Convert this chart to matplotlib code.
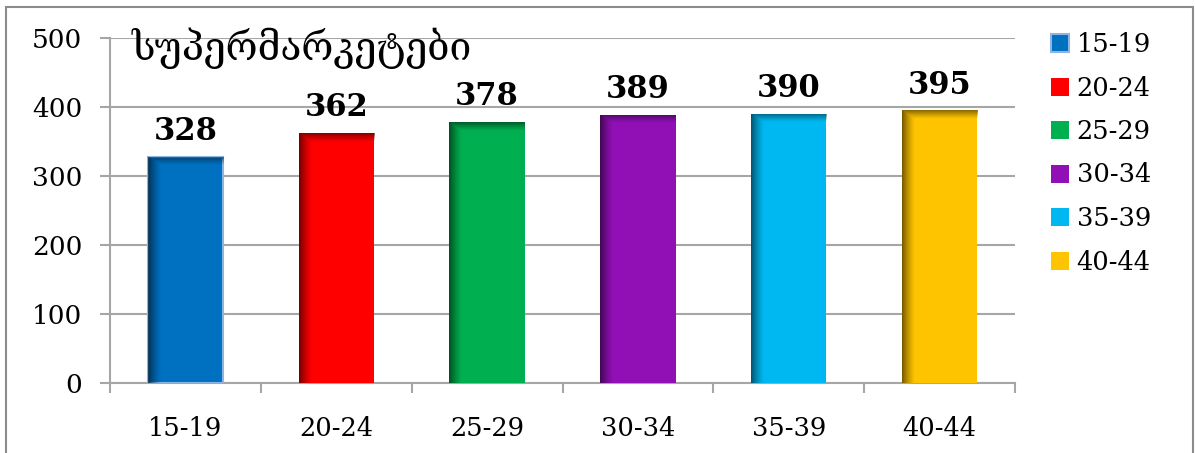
import numpy as np
import matplotlib
matplotlib.use("Agg")
import matplotlib.pyplot as plt
from matplotlib.patches import Rectangle
from matplotlib.colors import to_rgb

# Data
categories = ["15-19", "20-24", "25-29", "30-34", "35-39", "40-44"]
values = [328, 362, 378, 389, 390, 395]
bar_colors = ["#0070C0", "#FF0000", "#00B050", "#9110B5", "#00B8F1", "#FFC400"]
title_text = "სუპერმარკეტები"
y_ticks = [0, 100, 200, 300, 400, 500]

W, H = 1195, 453
fig = plt.figure(figsize=(W / 100, H / 100), dpi=100)
fig.patch.set_facecolor("white")

# outer chart frame
fig.patches.append(Rectangle((6 / W, -0.02), (1193 - 6) / W, 1.02 - 7 / H,
                             transform=fig.transFigure, fill=False,
                             edgecolor="#8C8C8C", linewidth=1.5, zorder=0))

ax = fig.add_axes([110 / W, (H - 383) / H, (1015 - 110) / W, (383 - 38) / H])
ax.set_xlim(-0.5, len(categories) - 0.5)
ax.set_ylim(0, 500)

serif = ["DejaVu Serif", "DejaVu Sans"]
grid_c = "#A6A6A6"

x = np.arange(len(categories))
bars = ax.bar(x, values, width=0.5, color=bar_colors, zorder=3, linewidth=0)
bars[0].set_edgecolor("#8DB4E2")
bars[0].set_linewidth(1.5)

# shaded left and top edges on each bar
fig.canvas.draw()
for b, col in zip(bars, bar_colors):
    x0, y0 = b.get_x(), 0
    x1, y1 = b.get_x() + b.get_width(), b.get_height()
    p0 = ax.transData.transform((x0, y0))
    p1 = ax.transData.transform((x1, y1))
    pw, ph = int(round(p1[0] - p0[0])), int(round(p1[1] - p0[1]))
    xs = np.arange(pw)[None, :] + 0.5
    ys = np.arange(ph)[:, None] + 0.5  # from top
    left = np.clip(1 - xs / 13.0, 0, 1) ** 1.3 * 0.85
    top = np.clip(1 - ys / 9.0, 0, 1) ** 1.2 * 0.75
    alpha = np.maximum(left, top)
    dark = np.array(to_rgb(col)) * 0.35
    img = np.zeros((ph, pw, 4))
    img[..., :3] = dark
    img[..., 3] = alpha
    im = ax.imshow(img, extent=(x0, x1, y0, y1), aspect="auto",
                   interpolation="bilinear", zorder=4)
    im.set_clip_path(b)

ax.set_xlim(-0.5, len(categories) - 0.5)
ax.set_ylim(0, 500)

for xi, v in zip(x, values):
    ax.annotate(str(v), (xi, v), xytext=(0, 7), textcoords="offset points",
                ha="center", va="bottom", fontsize=22, fontweight="bold",
                family=serif, color="black", zorder=5)

# axes styling
ax.set_yticks(y_ticks)
ax.set_yticklabels([str(t) for t in y_ticks], family=serif, fontsize=19)
ax.yaxis.grid(True, color=grid_c, linewidth=1.5, zorder=0)
ax.set_axisbelow(True)
ax.tick_params(axis="y", length=7, width=1.5, color=grid_c, pad=13)

ax.set_xticks(x)
ax.set_xticklabels(categories, family=serif, fontsize=18.5)
ax.set_xticks(np.arange(len(categories) + 1) - 0.5, minor=True)
ax.tick_params(axis="x", which="major", length=0, pad=24)
ax.tick_params(axis="x", which="minor", length=7, width=1.5, color=grid_c)

for s in ["top", "right"]:
    ax.spines[s].set_visible(False)
for s in ["left", "bottom"]:
    ax.spines[s].set_color(grid_c)
    ax.spines[s].set_linewidth(1.5)

fig.text(132 / W, 1 - 48 / H, title_text, family=serif, fontsize=28,
         ha="left", va="center")

leg = fig.legend(bars, categories, loc="upper left",
                 bbox_to_anchor=(1051 / W, 1 - 32 / H),
                 frameon=False, prop={"family": serif, "size": 18.5},
                 handlelength=0.7, handleheight=0.7, handletextpad=0.3,
                 labelspacing=0.72, borderaxespad=0, borderpad=0)

fig.savefig("out.png", dpi=100, facecolor="white")
